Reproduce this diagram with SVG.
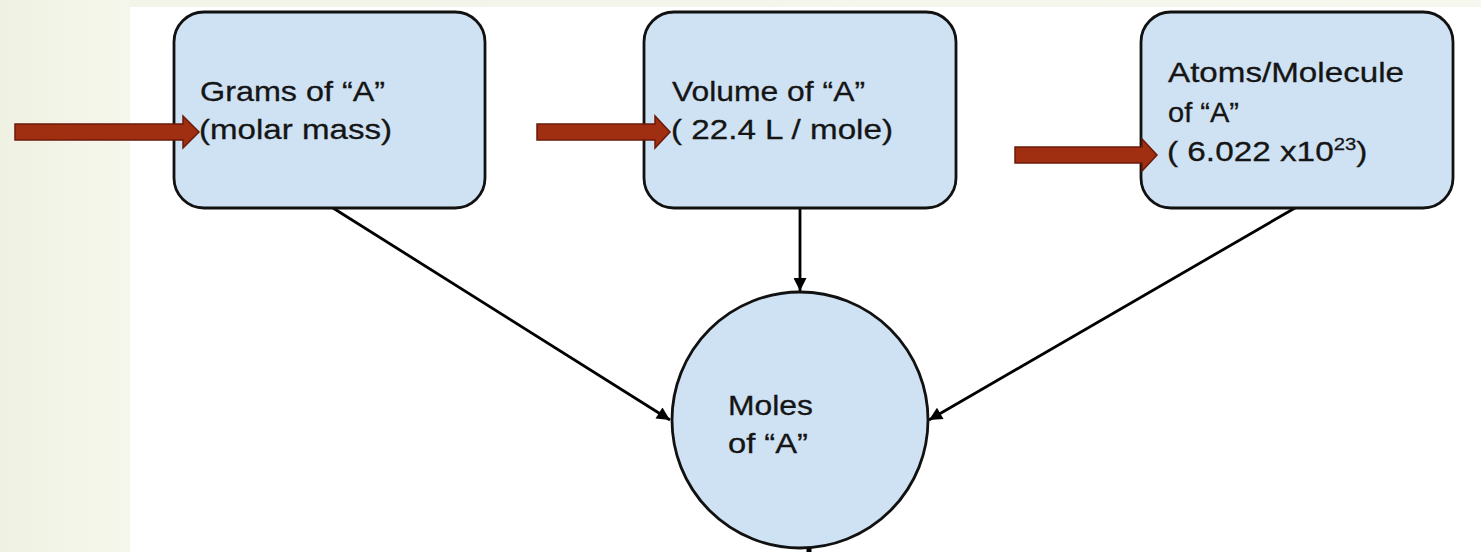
<svg xmlns="http://www.w3.org/2000/svg" width="1481" height="552" viewBox="0 0 1481 552">
<defs>
<linearGradient id="bgL" x1="0" y1="0" x2="1" y2="0">
<stop offset="0" stop-color="#eff2e2"/>
<stop offset="1" stop-color="#f5f7ec"/>
</linearGradient>
<linearGradient id="bgT" x1="0" y1="0" x2="1" y2="0">
<stop offset="0" stop-color="#f2f4e8"/>
<stop offset="1" stop-color="#f6f7ee"/>
</linearGradient>
<marker id="ah" viewBox="0 0 10 10" refX="10" refY="5" markerWidth="17" markerHeight="13" markerUnits="userSpaceOnUse" orient="auto">
<path d="M0,0 L10,5 L0,10 z" fill="#000"/>
</marker>
<style>
.box{fill:#cfe2f3;stroke:#111;stroke-width:2.8}
.t{font-family:"Liberation Sans",Arial,sans-serif;font-size:28px;fill:#151515;stroke:#151515;stroke-width:0.3}
.con{stroke:#000;stroke-width:2.8;fill:none}
.red{fill:#a02e10;stroke:#6b1a08;stroke-width:1.5}
</style>
</defs>
<rect x="0" y="0" width="1481" height="552" fill="#fff"/>
<rect x="0" y="0" width="1481" height="7" fill="url(#bgT)"/>
<rect x="0" y="0" width="130" height="552" fill="url(#bgL)"/>

<g id="connectors">
<line class="con" x1="333" y1="208" x2="670" y2="420" marker-end="url(#ah)"/>
<line class="con" x1="800" y1="209" x2="800" y2="291" marker-end="url(#ah)"/>
<line class="con" x1="1295" y1="208" x2="929" y2="420" marker-end="url(#ah)"/>
<line x1="809" y1="546" x2="809" y2="552" stroke="#000" stroke-width="5"/>
</g>

<g id="node-grams">
<rect class="box" x="174" y="12" width="311" height="196" rx="30" ry="30"/>
<text class="t" x="200" y="101" textLength="185" lengthAdjust="spacingAndGlyphs">Grams of “A”</text>
<text class="t" x="199" y="139" textLength="193" lengthAdjust="spacingAndGlyphs">(molar mass)</text>
</g>

<g id="node-volume">
<rect class="box" x="644" y="12" width="312" height="196" rx="30" ry="30"/>
<text class="t" x="672" y="101" textLength="193" lengthAdjust="spacingAndGlyphs">Volume of “A”</text>
<text class="t" x="671" y="139" textLength="222" lengthAdjust="spacingAndGlyphs">( 22.4 L / mole)</text>
</g>

<g id="node-atoms">
<rect class="box" x="1141" y="12" width="312" height="196" rx="30" ry="30"/>
<text class="t" x="1168" y="82" textLength="236" lengthAdjust="spacingAndGlyphs">Atoms/Molecule</text>
<text class="t" x="1168" y="122" textLength="71" lengthAdjust="spacingAndGlyphs">of “A”</text>
<text class="t" transform="translate(1167,161) scale(1.19,1)" x="0" y="0">( 6.022 x10<tspan font-size="17" dy="-11">23</tspan><tspan dy="11">)</tspan></text>
</g>

<g id="node-moles">
<circle class="box" cx="800" cy="420" r="128"/>
<text class="t" x="728" y="415" textLength="85" lengthAdjust="spacingAndGlyphs">Moles</text>
<text class="t" x="728" y="453" textLength="80" lengthAdjust="spacingAndGlyphs">of “A”</text>
</g>

<g id="red-arrows">
<polygon class="red" points="15,124 183,124 183,116 199,132 183,148 183,140 15,140"/>
<polygon class="red" points="537,124 655,124 655,116 670,132 655,148 655,140 537,140"/>
<polygon class="red" points="1015,147 1142,147 1142,139 1157,155 1142,171 1142,163 1015,163"/>
</g>
</svg>
